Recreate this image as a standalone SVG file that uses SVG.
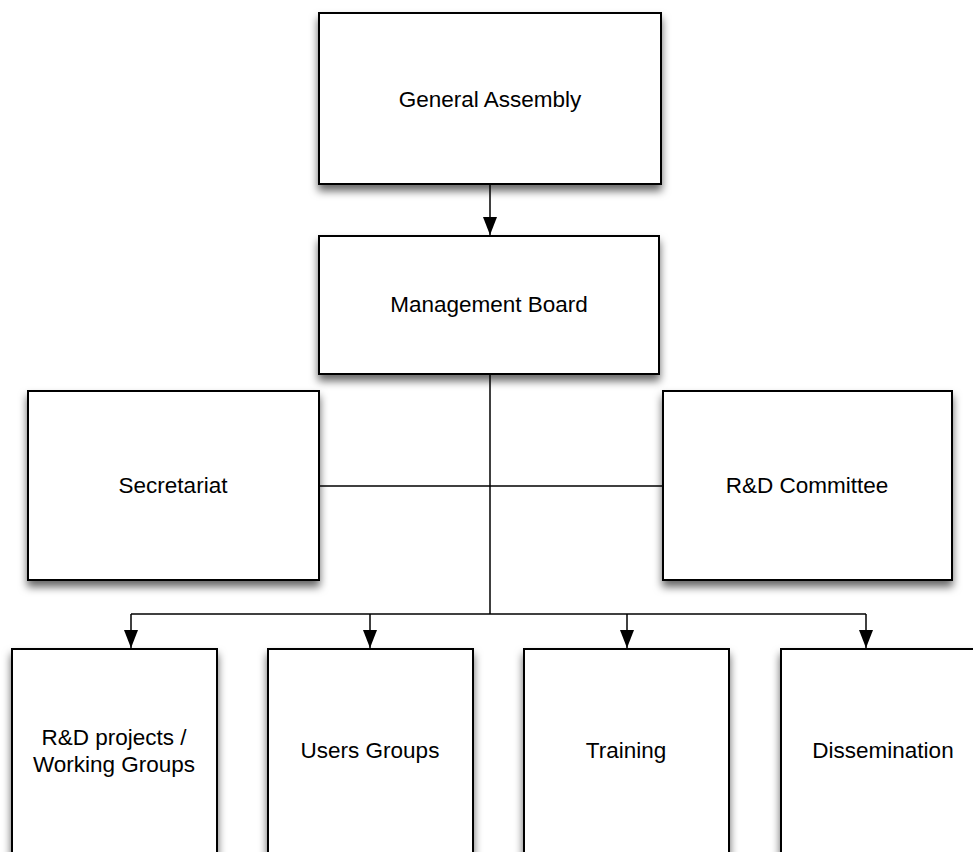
<svg xmlns="http://www.w3.org/2000/svg" width="973" height="852" viewBox="0 0 973 852">
<style>
.box{fill:#fff;stroke:#000;stroke-width:2;filter:url(#sh)}
.lbl{font-family:"Liberation Sans",Arial,sans-serif;font-size:22.5px;fill:#000;text-anchor:middle}
.con{fill:none;stroke:#000;stroke-width:1.5}
</style>
<defs>
<filter id="sh" x="-10%" y="-10%" width="130%" height="130%">
<feDropShadow dx="0" dy="6" stdDeviation="4.5" flood-color="#000" flood-opacity="0.6"/>
</filter>
<marker id="ah" markerWidth="18" markerHeight="14" refX="18" refY="7" orient="auto" markerUnits="userSpaceOnUse" viewBox="0 0 18 14">
<path d="M0,0 L18,7 L0,14 Z" fill="#000"/>
</marker>
</defs>
<rect width="973" height="852" fill="#fff"/>
<g id="connectors">
<path class="con" d="M490,185 V235" marker-end="url(#ah)"/>
<path class="con" d="M490,375 V614"/>
<path class="con" d="M320,486 H663"/>
<path class="con" d="M131,614 H866"/>
<path class="con" d="M131,614 V648" marker-end="url(#ah)"/>
<path class="con" d="M370,614 V648" marker-end="url(#ah)"/>
<path class="con" d="M627,614 V648" marker-end="url(#ah)"/>
<path class="con" d="M866,614 V648" marker-end="url(#ah)"/>
</g>
<g id="general-assembly">
<rect class="box" x="319" y="13" width="342" height="171"/>
<text class="lbl" x="490" y="107">General Assembly</text>
</g>
<g id="management-board">
<rect class="box" x="319" y="236" width="340" height="138"/>
<text class="lbl" x="489" y="312">Management Board</text>
</g>
<g id="secretariat">
<rect class="box" x="28" y="391" width="291" height="189"/>
<text class="lbl" x="173" y="493">Secretariat</text>
</g>
<g id="rd-committee">
<rect class="box" x="663" y="391" width="289" height="189"/>
<text class="lbl" x="807" y="493">R&amp;D Committee</text>
</g>
<g id="rd-projects">
<rect class="box" x="12" y="649" width="205" height="230"/>
<text class="lbl" x="114" y="745">R&amp;D projects /</text>
<text class="lbl" x="114" y="772">Working Groups</text>
</g>
<g id="users-groups">
<rect class="box" x="268" y="649" width="205" height="230"/>
<text class="lbl" x="370" y="758">Users Groups</text>
</g>
<g id="training">
<rect class="box" x="524" y="649" width="205" height="230"/>
<text class="lbl" x="626" y="758">Training</text>
</g>
<g id="dissemination">
<rect class="box" x="781" y="649" width="205" height="230"/>
<text class="lbl" x="883" y="758">Dissemination</text>
</g>
</svg>
